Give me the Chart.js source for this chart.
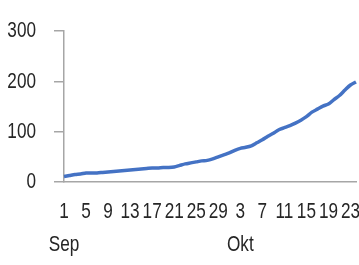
<!DOCTYPE html>
<html>
<head>
<meta charset="utf-8">
<script src="https://cdn.jsdelivr.net/npm/chart.js@4"></script>
<style>
html,body{margin:0;padding:0;background:#fff;}
#wrap{width:359px;height:265px;position:relative;}
</style>
</head>
<body>
<div id="wrap"><canvas id="c" width="359" height="265"></canvas></div>
<script>
const days = [1,2,3,4,5,6,7,8,9,10,11,12,13,14,15,16,17,18,19,20,21,22,23,24,25,26,27,28,29,30,
              1,2,3,4,5,6,7,8,9,10,11,12,13,14,15,16,17,18,19,20,21,22,23,24];
const monthLabels = {0: 'Sep', 32: 'Okt'};
const values = [11,13,15,16,18,18,18,19,20,21,22,23,24,25,26,27,28,28,29,29,
                30,33,36,38,40,42,43,46,50,54,58,63,67,69,72,78,84,91,97,104,
                108,112,117,123,130,139,145,151,155,164,172,183,193,199];
const yTicks = [0,100,200,300];

const FONT = "'Liberation Sans',Arial,sans-serif";
const SX = 0.78; // horizontal condensing of the text to mimic a condensed face

const canvas = document.getElementById('c');
const ctx = canvas.getContext('2d');
const origFill = ctx.fillText.bind(ctx);
const origMeasure = ctx.measureText.bind(ctx);
ctx.fillText = function(text, x, y, maxW) {
  ctx.save();
  ctx.translate(x, y);
  ctx.scale(SX, 1);
  if (maxW !== undefined) origFill(text, 0, 0, maxW / SX); else origFill(text, 0, 0);
  ctx.restore();
};
ctx.measureText = function(text) {
  const m = origMeasure(text);
  return {width: m.width * SX,
          actualBoundingBoxAscent: m.actualBoundingBoxAscent,
          actualBoundingBoxDescent: m.actualBoundingBoxDescent};
};

new Chart(canvas, {
  type: 'line',
  data: {
    labels: days.map((d, i) => monthLabels[i] ? [String(d), monthLabels[i]] : [String(d), '']),
    datasets: [{
      data: values,
      borderColor: '#4472C4',
      borderWidth: 3.5,
      pointRadius: 0,
      tension: 0.25,
      fill: false
    }]
  },
  options: {
    responsive: false,
    animation: false,
    layout: {padding: {top: 25, right: 3, left: 0, bottom: 0}},
    plugins: {legend: {display: false}, tooltip: {enabled: false}},
    scales: {
      x: {
        offset: false,
        afterFit: (s) => { s.height = 83; s.paddingRight = 0; s.paddingLeft = 0; },
        grid: {display: true, drawOnChartArea: false, drawTicks: false, color: '#a6a6a6'},
        border: {display: true, color: '#a6a6a6', width: 1.5},
        ticks: {
          autoSkip: false,
          maxRotation: 0,
          minRotation: 0,
          padding: 13,
          color: '#262626',
          font: {family: FONT, size: 22, lineHeight: 1.5},
          callback: function(v, i) { return i % 4 === 0 ? this.getLabelForValue(v) : null; }
        }
      },
      y: {
        min: 0, max: 300,
        afterFit: (s) => { s.width = 64; },
        afterBuildTicks: (axis) => { axis.ticks = yTicks.map(v => ({value: v})); },
        grid: {display: true, drawOnChartArea: false, drawTicks: true, tickLength: 10, color: '#a6a6a6', lineWidth: 1.5},
        border: {display: true, color: '#a6a6a6', width: 1.5},
        ticks: {
          padding: 18,
          color: '#262626',
          font: {family: FONT, size: 22}
        }
      }
    }
  }
});
</script>
</body>
</html>
